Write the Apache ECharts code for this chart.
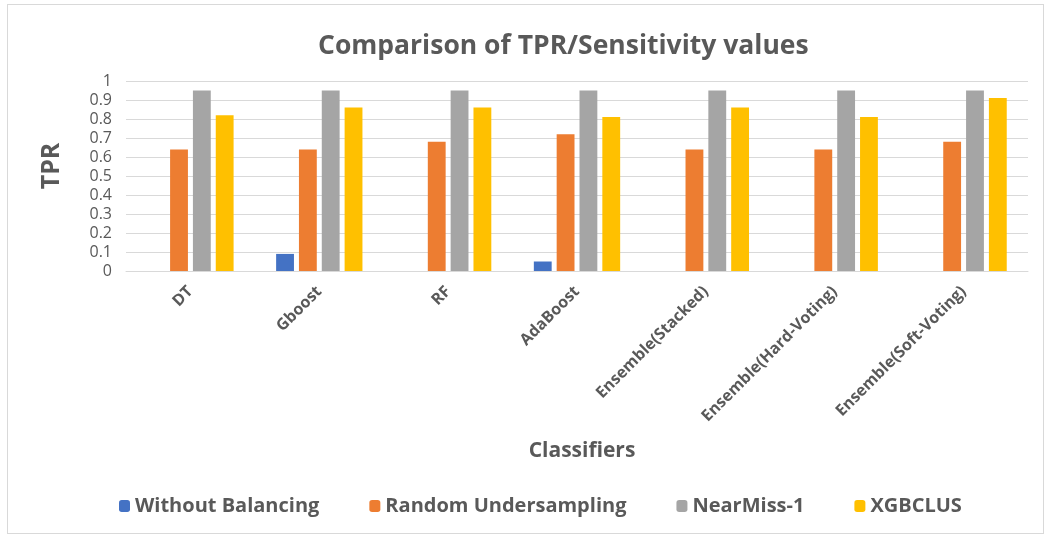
<!DOCTYPE html>
<html>
<head>
<meta charset="utf-8">
<script src="https://cdn.jsdelivr.net/npm/echarts@6/dist/echarts.min.js"></script>
<style>
  html, body { margin: 0; padding: 0; background: #fff; }
  #main { position: absolute; left: 7px; top: 4px; width: 1037px; height: 530px; border: 1px solid #d9d9d9; box-sizing: border-box; }
</style>
</head>
<body>
<div id="main"></div>
<script>
  var classifiers = ['DT', 'Gboost', 'RF', 'AdaBoost', 'Ensemble(Stacked)', 'Ensemble(Hard-Voting)', 'Ensemble(Soft-Voting)']
  var withoutBalancing = [0, 0.09, 0, 0.05, 0, 0, 0]
  var randomUnder = [0.64, 0.64, 0.68, 0.72, 0.64, 0.64, 0.68]
  var nearMiss = [0.95, 0.95, 0.95, 0.95, 0.95, 0.95, 0.95]
  var xgbclus = [0.82, 0.86, 0.86, 0.81, 0.86, 0.81, 0.91]

  var font = '"Open Sans", "Liberation Sans", sans-serif'
  var chart = echarts.init(document.getElementById('main'))
  function bar (name, data, color) {
    return { name: name, type: 'bar', data: data, barGap: '28%', barCategoryGap: '33%', itemStyle: { color: color } }
  }
  chart.setOption({
    animation: false,
    title: {
      text: 'Comparison of TPR/Sensitivity values',
      left: 305,
      top: 23,
      textStyle: { fontFamily: font, fontSize: 26.5, fontWeight: 'bold', color: '#595959' }
    },
    legend: {
      bottom: 12,
      left: 106,
      itemWidth: 11,
      itemHeight: 12,
      itemGap: 50,
      textStyle: { fontFamily: font, fontSize: 20, fontWeight: 'bold', color: '#595959' },
      data: ['Without Balancing', 'Random Undersampling', 'NearMiss-1', 'XGBCLUS']
    },
    grid: { left: 118, right: 15, top: 76, bottom: 262 },
    xAxis: {
      type: 'category',
      data: classifiers,
      name: 'Classifiers',
      nameLocation: 'middle',
      nameGap: 170,
      nameTextStyle: { fontFamily: font, fontSize: 21, fontWeight: 'bold', color: '#595959', padding: [0, 0, 0, 10] },
      axisLine: { lineStyle: { color: '#d9d9d9' } },
      axisTick: { show: false },
      axisLabel: { rotate: 45, margin: 18, fontFamily: font, fontSize: 16, fontWeight: 'bold', color: '#595959' }
    },
    yAxis: {
      type: 'value',
      min: 0,
      max: 1,
      interval: 0.1,
      name: 'TPR',
      nameLocation: 'middle',
      nameGap: 62,
      nameTextStyle: { fontFamily: font, fontSize: 25, fontWeight: 'bold', color: '#595959', padding: [0, 0, 0, 20] },
      axisLine: { show: false },
      axisTick: { show: false },
      splitLine: { lineStyle: { color: '#d9d9d9', width: 1 } },
      axisLabel: { margin: 14, fontFamily: font, fontSize: 16, color: '#595959' }
    },
    series: [
      bar('Without Balancing', withoutBalancing, '#4472c4'),
      bar('Random Undersampling', randomUnder, '#ed7d31'),
      bar('NearMiss-1', nearMiss, '#a5a5a5'),
      bar('XGBCLUS', xgbclus, '#ffc000')
    ]
  })
</script>
</body>
</html>
